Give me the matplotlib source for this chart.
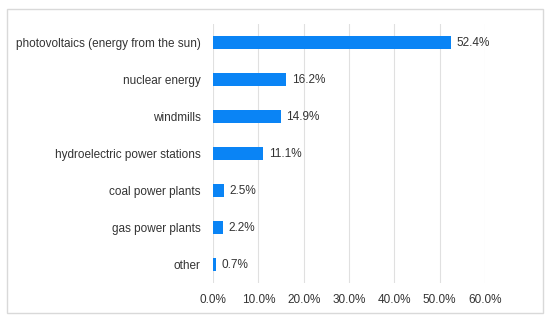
import matplotlib.pyplot as plt
from matplotlib.patches import Rectangle

plt.rcParams['font.family'] = ['Liberation Sans', 'DejaVu Sans']

categories = ['photovoltaics (energy from the sun)', 'nuclear energy', 'windmills',
              'hydroelectric power stations', 'coal power plants', 'gas power plants', 'other']
values = [52.4, 16.2, 14.9, 11.1, 2.5, 2.2, 0.7]
xticks = [0, 10, 20, 30, 40, 50, 60]

fs = 8.5

fig = plt.figure(figsize=(5.5, 3.22), dpi=100)
ax = fig.add_axes([213 / 550, 1 - 283 / 322, 272 / 550, 259 / 322])

# outer frame
fig.patches.append(Rectangle((7 / 550, 1 - 313 / 322), 536 / 550, 304 / 322,
                             transform=fig.transFigure, fill=False,
                             edgecolor='#d9d9d9', linewidth=1))

pos = list(range(len(categories)))
ax.barh(pos, values, height=0.36, color='#0A84F5', zorder=3)
for p, v in zip(pos, values):
    ax.text(v + 1.2, p, f'{v:.1f}%', va='center', ha='left', fontsize=fs, color='#333333')

ax.set_ylim(len(categories) - 0.5, -0.5)
ax.set_xlim(0, 60)
ax.set_yticks(pos)
ax.set_yticklabels(categories, fontsize=fs, color='#333333')
ax.set_xticks(xticks)
ax.set_xticklabels([f'{t:.1f}%' for t in xticks], fontsize=fs, color='#333333')
ax.tick_params(length=0, pad=9)
ax.tick_params(axis='x', pad=8)
ax.grid(axis='x', color='#e0e0e0', linewidth=0.8, zorder=0)
for s in ax.spines.values():
    s.set_visible(False)

fig.savefig('out.png', dpi=100)
